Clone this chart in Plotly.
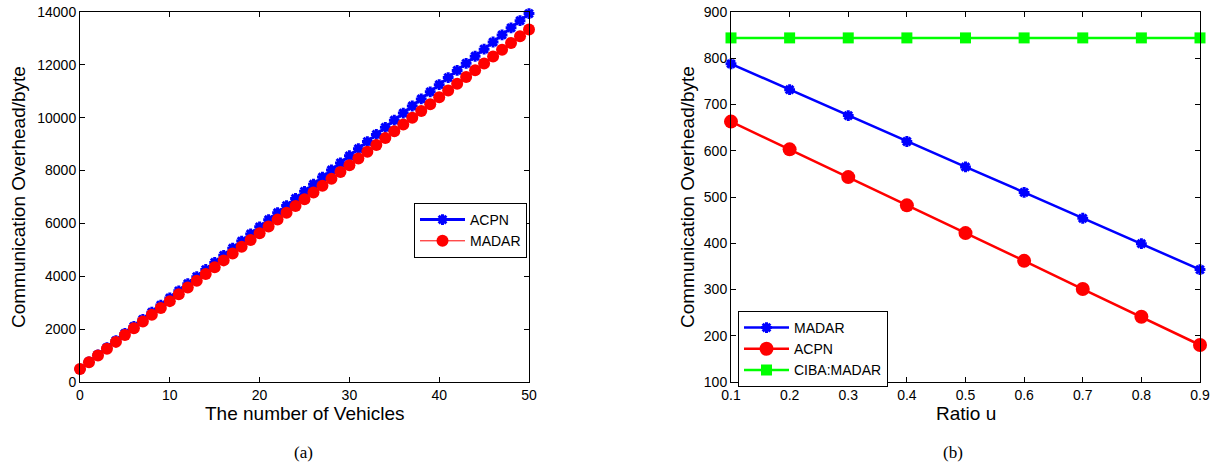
import plotly.graph_objects as go

# ---- data: panel (a) ----
vehicles = list(range(0, 51))
acpn_a = [490, 759, 1028, 1297, 1566, 1835, 2104, 2373, 2642, 2911,
          3180, 3449, 3718, 3987, 4256, 4525, 4794, 5063, 5332, 5601,
          5870, 6139, 6408, 6677, 6946, 7215, 7484, 7753, 8022, 8291,
          8560, 8829, 9098, 9367, 9636, 9905, 10174, 10443, 10712, 10981,
          11250, 11519, 11788, 12057, 12326, 12595, 12864, 13133, 13402, 13671,
          13940]
madar_a = [490, 747, 1004, 1261, 1518, 1775, 2032, 2289, 2546, 2803,
           3060, 3317, 3574, 3831, 4088, 4345, 4602, 4859, 5116, 5373,
           5630, 5887, 6144, 6401, 6658, 6915, 7172, 7429, 7686, 7943,
           8200, 8457, 8714, 8971, 9228, 9485, 9742, 9999, 10256, 10513,
           10770, 11027, 11284, 11541, 11798, 12055, 12312, 12569, 12826, 13083,
           13340]
yticks_a = [0, 2000, 4000, 6000, 8000, 10000, 12000, 14000]
xticks_a = [0, 10, 20, 30, 40, 50]

# ---- data: panel (b) ----
ratio_u = [0.1, 0.2, 0.3, 0.4, 0.5, 0.6, 0.7, 0.8, 0.9]
ratio_labels = ["0.1", "0.2", "0.3", "0.4", "0.5", "0.6", "0.7", "0.8", "0.9"]
madar_b = [788, 732, 676, 620, 565, 510, 454, 399, 343]
acpn_b = [663, 603, 543, 482, 422, 362, 301, 241, 180]
ciba_b = [844, 844, 844, 844, 844, 844, 844, 844, 844]
yticks_b = [100, 200, 300, 400, 500, 600, 700, 800, 900]

W, H = 1216, 466
FONT = "Liberation Sans, Arial, sans-serif"
SERIF = "Liberation Serif, Times New Roman, serif"

def px(x):
    return x / W

def py(y):
    return 1 - y / H

fig = go.Figure()

fig.add_trace(go.Scatter(
    x=vehicles, y=acpn_a, name="ACPN", mode="lines+markers",
    line=dict(color="#0000ff", width=3),
    marker=dict(symbol="asterisk-open", size=9, color="#0000ff",
                line=dict(color="#0000ff", width=3)),
    xaxis="x", yaxis="y", legend="legend", cliponaxis=False))
fig.add_trace(go.Scatter(
    x=vehicles, y=madar_a, name="MADAR", mode="lines+markers",
    line=dict(color="#ff0000", width=1),
    marker=dict(symbol="circle", size=12, color="#ff0000"),
    xaxis="x", yaxis="y", legend="legend", cliponaxis=False))

fig.add_trace(go.Scatter(
    x=ratio_u, y=madar_b, name="MADAR", mode="lines+markers",
    line=dict(color="#0000ff", width=2.5),
    marker=dict(symbol="asterisk-open", size=9, color="#0000ff",
                line=dict(color="#0000ff", width=3)),
    xaxis="x2", yaxis="y2", legend="legend2", cliponaxis=False))
fig.add_trace(go.Scatter(
    x=ratio_u, y=acpn_b, name="ACPN", mode="lines+markers",
    line=dict(color="#ff0000", width=2.5),
    marker=dict(symbol="circle", size=14, color="#ff0000"),
    xaxis="x2", yaxis="y2", legend="legend2", cliponaxis=False))
fig.add_trace(go.Scatter(
    x=ratio_u, y=ciba_b, name="CIBA:MADAR", mode="lines+markers",
    line=dict(color="#00ff00", width=2.5),
    marker=dict(symbol="square", size=11, color="#00ff00"),
    xaxis="x2", yaxis="y2", legend="legend2", cliponaxis=False))

ydom = [py(382), py(12)]
axcommon = dict(showline=True, linecolor="black", linewidth=1, mirror="ticks",
                ticks="inside", ticklen=5, tickcolor="black", showgrid=False,
                zeroline=False, automargin=False,
                tickfont=dict(family=FONT, size=14, color="black"))

fig.update_layout(
    width=W, height=H, margin=dict(l=0, r=0, t=0, b=0, autoexpand=False),
    paper_bgcolor="white", plot_bgcolor="white",
    font=dict(family=FONT, color="black"),
    xaxis=dict(domain=[px(80), px(529)], range=[0, 50], tickvals=xticks_a,
               ticktext=[str(v) for v in xticks_a], anchor="y", **axcommon),
    yaxis=dict(domain=ydom, range=[0, 14000], tickvals=yticks_a,
               ticktext=[str(v) for v in yticks_a], anchor="x", **axcommon),
    xaxis2=dict(domain=[px(731), px(1200)], range=[0.1, 0.9],
                tickvals=ratio_u, ticktext=ratio_labels, anchor="y2", **axcommon),
    yaxis2=dict(domain=ydom, range=[100, 900], tickvals=yticks_b,
                ticktext=[str(v) for v in yticks_b], anchor="x2", **axcommon),
    legend=dict(x=px(414), y=py(203), xanchor="left", yanchor="top",
                bordercolor="black", borderwidth=1, bgcolor="white",
                font=dict(family=FONT, size=14, color="black"),
                tracegroupgap=0, itemwidth=45),
    legend2=dict(x=px(738), y=py(311), xanchor="left", yanchor="top",
                 bordercolor="black", borderwidth=1, bgcolor="white",
                 font=dict(family=FONT, size=14, color="black"),
                 tracegroupgap=0, itemwidth=45),
    showlegend=True,
)

annots = [
    dict(text="Communication Overhead/byte", x=px(18), y=py(197), textangle=-90,
         font=dict(family=FONT, size=19, color="black")),
    dict(text="Communication Overhead/byte", x=px(687), y=py(197), textangle=-90,
         font=dict(family=FONT, size=19, color="black")),
    dict(text="The number of Vehicles", x=px(305), y=py(413),
         font=dict(family=FONT, size=19, color="black")),
    dict(text="Ratio u", x=px(966), y=py(413),
         font=dict(family=FONT, size=19, color="black")),
    dict(text="(a)", x=px(303), y=py(452),
         font=dict(family=SERIF, size=17, color="black")),
    dict(text="(b)", x=px(953), y=py(452),
         font=dict(family=SERIF, size=17, color="black")),
]
for a in annots:
    fig.add_annotation(xref="paper", yref="paper", showarrow=False,
                       xanchor="center", yanchor="middle", **a)

fig.write_html("out.html", config={"displayModeBar": False},
               post_script="document.body.style.margin='0px';document.body.style.overflow='hidden';")
